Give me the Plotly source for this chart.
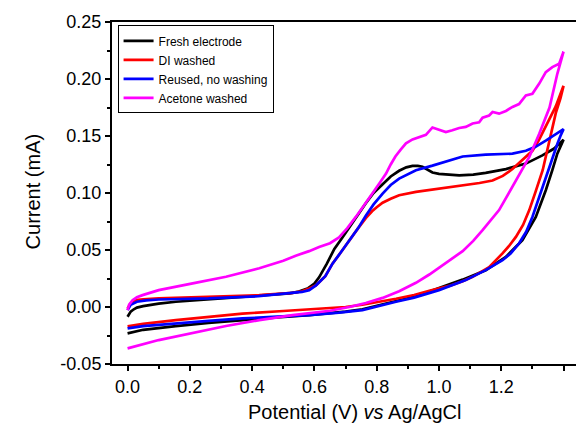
import plotly.graph_objects as go

# ---------------- data (Potential V, Current mA) ----------------
series_names = ["Fresh electrode", "DI washed", "Reused, no washing", "Acetone washed"]
series_colors = ["#000000", "#ff0000", "#0000ff", "#ff00ff"]

# Fresh electrode
fresh_fwd_v = [0.0, 0.005, 0.01, 0.02, 0.03, 0.05, 0.1, 0.155, 0.26, 0.37, 0.48, 0.52, 0.55, 0.58, 0.60,
               0.615, 0.64, 0.664, 0.69, 0.712, 0.74, 0.765, 0.79, 0.819, 0.845, 0.872, 0.895, 0.915,
               0.932, 0.947, 0.962, 0.979, 1.0, 1.022, 1.065, 1.11, 1.15, 1.215, 1.279, 1.332, 1.37, 1.40]
fresh_fwd_i = [-0.0086, -0.006, -0.004, -0.002, -0.0005, 0.0008, 0.003, 0.0046, 0.0066, 0.0089, 0.011,
               0.012, 0.0135, 0.0165, 0.0205, 0.026, 0.038, 0.051, 0.061, 0.070, 0.081, 0.091, 0.100,
               0.108, 0.1145, 0.1195, 0.1225, 0.1238, 0.1238, 0.123, 0.1205, 0.118, 0.1168, 0.1162,
               0.1155, 0.1162, 0.1176, 0.121, 0.1258, 0.133, 0.139, 0.1468]
fresh_rev_v = [1.40, 1.39, 1.38, 1.364, 1.343, 1.311, 1.268, 1.215, 1.15, 1.076, 1.0, 0.969, 0.92,
               0.862, 0.81, 0.754, 0.70, 0.65, 0.583, 0.48, 0.369, 0.26, 0.155, 0.1, 0.05, 0.0]
fresh_rev_i = [0.1468, 0.141, 0.1345, 0.12, 0.1024, 0.079, 0.0586, 0.044, 0.0323, 0.024, 0.0163, 0.0135,
               0.009, 0.005, 0.0015, -0.002, -0.004, -0.0055, -0.0071, -0.0092, -0.0115, -0.014,
               -0.0167, -0.0183, -0.020, -0.0231]

# DI washed
di_fwd_v = [0.0, 0.005, 0.01, 0.027, 0.05, 0.1, 0.262, 0.423, 0.53, 0.56, 0.583, 0.605, 0.635, 0.658,
            0.685, 0.712, 0.74, 0.765, 0.785, 0.80, 0.819, 0.845, 0.872, 0.926, 0.979, 1.033, 1.086,
            1.13, 1.172, 1.205, 1.236, 1.26, 1.28, 1.30, 1.32, 1.35, 1.375, 1.40]
di_fwd_i = [-0.0012, 0.001, 0.003, 0.006, 0.0068, 0.0075, 0.009, 0.0104, 0.0124, 0.0138, 0.0163, 0.019,
            0.027, 0.038, 0.048, 0.0586, 0.069, 0.078, 0.084, 0.0875, 0.0915, 0.095, 0.098, 0.101,
            0.103, 0.105, 0.1068, 0.1088, 0.111, 0.115, 0.121, 0.127, 0.1315, 0.137, 0.146, 0.162,
            0.176, 0.194]
di_rev_v = [1.40, 1.39, 1.375, 1.355, 1.333, 1.31, 1.29, 1.27, 1.247, 1.225, 1.204, 1.161, 1.108, 1.076,
            1.033, 0.969, 0.92, 0.862, 0.81, 0.754, 0.70, 0.65, 0.583, 0.50, 0.369, 0.26, 0.155, 0.05, 0.0]
di_rev_i = [0.194, 0.183, 0.17, 0.146, 0.12, 0.101, 0.085, 0.072, 0.0615, 0.0535, 0.047, 0.035, 0.0265,
            0.0225, 0.0185, 0.0142, 0.0105, 0.0072, 0.0045, 0.002, 0.0, -0.001, -0.002, -0.0035,
            -0.0058, -0.0085, -0.0115, -0.0148, -0.017]

# Reused, no washing
reused_fwd_v = [0.0, 0.005, 0.01, 0.03, 0.06, 0.1, 0.26, 0.42, 0.53, 0.56, 0.583, 0.605, 0.635, 0.658,
                0.685, 0.712, 0.74, 0.765, 0.79, 0.819, 0.845, 0.872, 0.90, 0.926, 0.979, 1.033, 1.076,
                1.15, 1.236, 1.279, 1.31, 1.343, 1.37, 1.40]
reused_fwd_i = [-0.0027, 0.0, 0.002, 0.0046, 0.0058, 0.0066, 0.0075, 0.0095, 0.012, 0.0132, 0.0148,
                0.019, 0.027, 0.038, 0.048, 0.0586, 0.069, 0.080, 0.090, 0.0995, 0.107, 0.1126, 0.1168,
                0.120, 0.124, 0.1287, 0.132, 0.1337, 0.1345, 0.137, 0.1405, 0.146, 0.151, 0.156]
reused_rev_v = [1.40, 1.39, 1.38, 1.36, 1.333, 1.30, 1.28, 1.257, 1.23, 1.204, 1.15, 1.086, 1.0, 0.969,
                0.92, 0.862, 0.81, 0.754, 0.679, 0.583, 0.48, 0.369, 0.26, 0.155, 0.05, 0.0]
reused_rev_i = [0.156, 0.150, 0.143, 0.127, 0.105, 0.079, 0.066, 0.0557, 0.047, 0.041, 0.0323, 0.0236,
                0.0148, 0.012, 0.0082, 0.0046, 0.0008, -0.0027, -0.005, -0.0071, -0.0085, -0.010,
                -0.0122, -0.0144, -0.0168, -0.0188]

# Acetone washed
acetone_fwd_v = [0.0, 0.005, 0.016, 0.03, 0.048, 0.1, 0.209, 0.316, 0.423, 0.46, 0.50, 0.54, 0.583,
                 0.615, 0.65, 0.679, 0.705, 0.733, 0.76, 0.786, 0.81, 0.83, 0.845, 0.86, 0.877, 0.894,
                 0.915, 0.937, 0.958, 0.979, 1.0, 1.022, 1.043, 1.065, 1.086, 1.108, 1.129, 1.14, 1.161,
                 1.172, 1.193, 1.215, 1.236, 1.257, 1.279, 1.30, 1.322, 1.343, 1.364, 1.386, 1.40]
acetone_fwd_i = [-0.0027, 0.002, 0.006, 0.0085, 0.0104, 0.0148, 0.0207, 0.0265, 0.034, 0.037, 0.0405,
                 0.045, 0.049, 0.0527, 0.056, 0.061, 0.069, 0.079, 0.089, 0.0995, 0.109, 0.117, 0.125,
                 0.132, 0.138, 0.1435, 0.147, 0.149, 0.151, 0.1575, 0.1555, 0.1535, 0.155, 0.157, 0.158,
                 0.161, 0.162, 0.166, 0.168, 0.171, 0.1696, 0.172, 0.1755, 0.178, 0.1856, 0.187, 0.196,
                 0.206, 0.2104, 0.2134, 0.224]
acetone_rev_v = [1.40, 1.39, 1.38, 1.355, 1.322, 1.29, 1.27, 1.236, 1.193, 1.14, 1.11, 1.076, 1.033, 1.0,
                 0.969, 0.926, 0.872, 0.819, 0.765, 0.712, 0.65, 0.53, 0.423, 0.316, 0.209, 0.1, 0.0]
acetone_rev_i = [0.224, 0.214, 0.2046, 0.175, 0.152, 0.1316, 0.122, 0.105, 0.085, 0.0674, 0.058, 0.049,
                 0.0405, 0.034, 0.0285, 0.0212, 0.0138, 0.008, 0.0035, 0.0, -0.0033, -0.0072, -0.0115,
                 -0.0167, -0.0226, -0.029, -0.0363]

x_tick_vals = [0.0, 0.2, 0.4, 0.6, 0.8, 1.0, 1.2, 1.4]
x_tick_text = ["0.0", "0.2", "0.4", "0.6", "0.8", "1.0", "1.2", "1.4"]
y_tick_vals = [-0.05, 0.0, 0.05, 0.10, 0.15, 0.20, 0.25]
y_tick_text = ["-0.05", "0.00", "0.05", "0.10", "0.15", "0.20", "0.25"]

x_title = "Potential (V) <i>vs</i> Ag/AgCl"
y_title = "Current (mA)"

# ---------------- figure ----------------
curves = [
    (fresh_fwd_v + fresh_rev_v, fresh_fwd_i + fresh_rev_i),
    (di_fwd_v + di_rev_v, di_fwd_i + di_rev_i),
    (reused_fwd_v + reused_rev_v, reused_fwd_i + reused_rev_i),
    (acetone_fwd_v + acetone_rev_v, acetone_fwd_i + acetone_rev_i),
]

FONT = "Liberation Sans, Arial, sans-serif"
fig = go.Figure()
for name, color, (vx, iy) in zip(series_names, series_colors, curves):
    fig.add_trace(go.Scatter(x=vx, y=iy, mode="lines", name=name,
                             line=dict(color=color, width=2.7)))

fig.update_layout(
    width=576, height=424,
    margin=dict(l=112, r=0, t=22, b=60),
    paper_bgcolor="white", plot_bgcolor="white",
    font=dict(family=FONT, color="black"),
    showlegend=True,
    legend=dict(x=0.012, y=0.99, xanchor="left", yanchor="top",
                bgcolor="white", bordercolor="black", borderwidth=1,
                font=dict(size=12, family=FONT), itemwidth=30,
                tracegroupgap=0),
    xaxis=dict(range=[-0.05, 1.44], tickvals=x_tick_vals, ticktext=x_tick_text,
               showgrid=False, zeroline=False, showline=True, linecolor="black", linewidth=2,
               mirror=True, ticks="outside", ticklen=5, tickwidth=2, tickcolor="black",
               tickfont=dict(size=18, family=FONT),
               minor=dict(dtick=0.1, tick0=0, ticks="outside", ticklen=3, tickwidth=2,
                          tickcolor="black", showgrid=False)),
    yaxis=dict(range=[-0.05, 0.25], tickvals=y_tick_vals, ticktext=y_tick_text,
               showgrid=False, zeroline=False, showline=True, linecolor="black", linewidth=2,
               mirror=False, ticks="outside", ticklen=5, tickwidth=2, tickcolor="black",
               tickfont=dict(size=18, family=FONT),
               minor=dict(dtick=0.025, tick0=0, ticks="outside", ticklen=3, tickwidth=2,
                          tickcolor="black", showgrid=False)),
    annotations=[
        dict(text=x_title, xref="paper", yref="paper", x=0.5216, y=-0.14,
             xanchor="center", yanchor="middle", showarrow=False,
             font=dict(size=20, family=FONT)),
        dict(text=y_title, xref="paper", yref="paper", x=-0.170, y=0.505,
             xanchor="center", yanchor="middle", textangle=-90, showarrow=False,
             font=dict(size=20, family=FONT)),
    ],
)

fig.write_html("out.html")
